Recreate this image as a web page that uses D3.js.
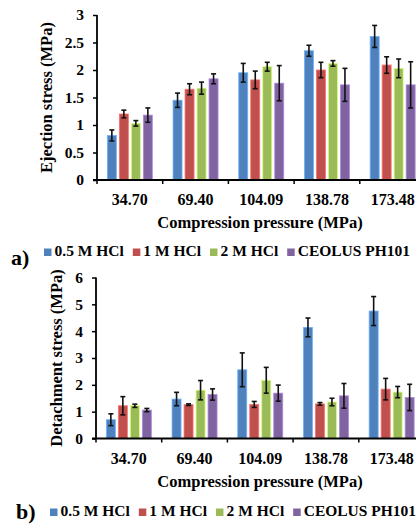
<!DOCTYPE html>
<html>
<head>
<meta charset="utf-8">
<script src="https://cdn.jsdelivr.net/npm/d3@7"></script>
<style>
  body { margin: 0; background: #fff; }
  svg { display: block; }
</style>
</head>
<body>
<svg id="chart" width="416" height="525"></svg>
<script>
// data
var pressures = ["34.70", "69.40", "104.09", "138.78", "173.48"];
var seriesNames = ["0.5 M HCl", "1 M HCl", "2 M HCl", "CEOLUS PH101"];
var colors = ["#4f81bd", "#c0504d", "#9bbb59", "#8064a2"];

// a) ejection stress, rows = series, cols = pressures
var ejection = [
  [0.81, 1.45, 1.95, 2.35, 2.61],
  [1.20, 1.65, 1.82, 2.00, 2.09],
  [1.03, 1.67, 2.06, 2.12, 2.03],
  [1.18, 1.84, 1.76, 1.73, 1.73]
];
var ejectionErr = [
  [0.10, 0.13, 0.17, 0.10, 0.20],
  [0.07, 0.10, 0.16, 0.14, 0.15],
  [0.05, 0.11, 0.08, 0.05, 0.17],
  [0.13, 0.09, 0.32, 0.30, 0.42]
];
var ejectionTicks = [0, 0.5, 1, 1.5, 2, 2.5, 3];

// b) detachment stress
var detach = [
  [0.70, 1.47, 2.56, 4.14, 4.75],
  [1.22, 1.26, 1.27, 1.29, 1.84],
  [1.22, 1.80, 2.17, 1.36, 1.73],
  [1.06, 1.64, 1.69, 1.59, 1.53]
];
var detachErr = [
  [0.22, 0.25, 0.63, 0.35, 0.54],
  [0.34, 0.03, 0.11, 0.05, 0.40],
  [0.06, 0.36, 0.48, 0.14, 0.21],
  [0.06, 0.21, 0.30, 0.46, 0.49]
];
var detachTicks = [0, 1, 2, 3, 4, 5, 6];

var FONT = "'Liberation Serif', 'Times New Roman', Times, 'DejaVu Serif', serif";
var svg = d3.select("#chart");

function txt(sel, size) {
  return sel.style("font-family", FONT).style("font-weight", "bold")
    .style("font-size", size + "px").attr("fill", "#000");
}

function drawPanel(opt) {
  var g = svg.append("g");

  var x0 = d3.scaleBand().domain(pressures).range([opt.left, opt.left + 5 * 65.7]);
  var x1 = d3.scaleBand().domain(d3.range(seriesNames.length))
    .range([-24, 24]).paddingInner(0.25).paddingOuter(0.125);
  var y = d3.scaleLinear().domain([0, opt.max]).range([opt.bottom, opt.top]);

  // bars
  opt.values.forEach(function(row, s) {
    var sg = g.append("g");
    sg.selectAll("rect").data(row).enter().append("rect")
      .attr("x", function(d, i) { return x0(pressures[i]) + x0.bandwidth() / 2 + x1(s); })
      .attr("y", function(d) { return y(d); })
      .attr("width", x1.bandwidth())
      .attr("height", function(d) { return y(0) - y(d); })
      .attr("fill", colors[s])
      .attr("stroke", d3.color(colors[s]).brighter(0.9))
      .attr("stroke-width", 0.8);

    // error bars
    var eg = sg.selectAll("g.err").data(row).enter().append("g").attr("class", "err")
      .attr("stroke", "#111").attr("stroke-width", 1.6);
    var cx = function(d, i) { return x0(pressures[i]) + x0.bandwidth() / 2 + x1(s) + x1.bandwidth() / 2; };
    eg.append("line")
      .attr("x1", cx).attr("x2", cx)
      .attr("y1", function(d, i) { return y(d + opt.errors[s][i]); })
      .attr("y2", function(d, i) { return y(d - opt.errors[s][i]); });
    [1, -1].forEach(function(sign) {
      eg.append("line")
        .attr("x1", function(d, i) { return cx(d, i) - 2.5; })
        .attr("x2", function(d, i) { return cx(d, i) + 2.5; })
        .attr("y1", function(d, i) { return y(d + sign * opt.errors[s][i]); })
        .attr("y2", function(d, i) { return y(d + sign * opt.errors[s][i]); });
    });
  });

  // y axis
  var yAxis = g.append("g").attr("transform", "translate(" + opt.left + ",0)")
    .call(d3.axisLeft(y).tickValues(opt.ticks).tickSize(4).tickPadding(9)
      .tickFormat(function(d) { return String(d); }));
  yAxis.select(".domain").attr("stroke", "#000").attr("stroke-width", 1.8)
    .attr("d", "M0," + opt.top + "V" + opt.bottom);
  yAxis.selectAll(".tick line").attr("stroke", "#000").attr("stroke-width", 1.5);
  txt(yAxis.selectAll(".tick text"), 15.5);

  // x axis: ticks at band boundaries
  g.append("line").attr("x1", opt.left - 4).attr("x2", 416)
    .attr("y1", opt.bottom).attr("y2", opt.bottom)
    .attr("stroke", "#000").attr("stroke-width", 1.8);
  g.selectAll("line.xt").data(pressures).enter().append("line").attr("class", "xt")
    .attr("x1", function(d) { return x0(d); }).attr("x2", function(d) { return x0(d); })
    .attr("y1", opt.bottom).attr("y2", opt.bottom + 4)
    .attr("stroke", "#000").attr("stroke-width", 1.5);
  txt(g.selectAll("text.xl").data(pressures).enter().append("text").attr("class", "xl"), 16)
    .attr("x", function(d) { return x0(d) + x0.bandwidth() / 2; })
    .attr("y", opt.bottom + 25)
    .attr("text-anchor", "middle")
    .text(function(d) { return d; });

  txt(g.append("text"), 16.5).attr("x", 260).attr("y", opt.bottom + 48)
    .attr("text-anchor", "middle")
    .text("Compression pressure (MPa)");

  txt(g.append("text"), 16.5)
    .attr("transform", "translate(" + opt.titleX + "," + ((opt.top + opt.bottom) / 2) + ") rotate(-90)")
    .attr("text-anchor", "middle")
    .text(opt.yTitle);

  // panel letter and legend
  txt(g.append("text"), 22).attr("x", opt.letterX).attr("y", opt.letterY).text(opt.letter);

  var lx = opt.legendX;
  seriesNames.forEach(function(name, s) {
    g.append("rect").attr("x", lx).attr("y", opt.legendY - 7.5)
      .attr("width", 7.5).attr("height", 7.5).attr("fill", colors[s]);
    var t = txt(g.append("text"), 15.5).attr("x", lx + 10.5).attr("y", opt.legendY).text(name);
    lx += 10.5 + t.node().getComputedTextLength() + 9;
  });
}

drawPanel({
  values: ejection, errors: ejectionErr, ticks: ejectionTicks, max: 3,
  left: 97, top: 15, bottom: 180, titleX: 52,
  yTitle: "Ejection stress (MPa)", letter: "a)", letterX: 11, letterY: 265,
  legendX: 44, legendY: 256
});

drawPanel({
  values: detach, errors: detachErr, ticks: detachTicks, max: 6,
  left: 96, top: 277.5, bottom: 438.5, titleX: 62,
  yTitle: "Detachment stress (MPa)", letter: "b)", letterX: 16, letterY: 519,
  legendX: 50, legendY: 516
});
</script>
</body>
</html>
